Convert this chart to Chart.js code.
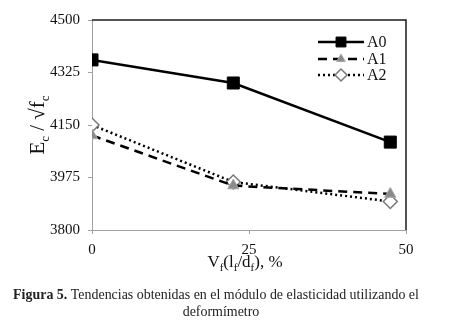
<!DOCTYPE html>
<html>
<head>
<meta charset="utf-8">
<script src="https://cdn.jsdelivr.net/npm/chart.js@4"></script>
<style>
  html, body { margin: 0; padding: 0; background: #fff; }
  #wrap { width: 455px; height: 329px; position: relative; }
</style>
</head>
<body>
<div id="wrap"><canvas id="chart" width="455" height="329"></canvas></div>
<script>
// values
const xValues = [0, 22.5, 47.5];
const seriesNames = ["A0", "A1", "A2"];
const a0Values = [4367, 4290, 4093];
const a1Values = [4115, 3948, 3920];
const a2Values = [4150, 3960, 3895];
const yTicks = [3800, 3975, 4150, 4325, 4500];
const xTicks = [0, 25, 50];
const captionBold = "Figura 5.";
const captionRest = " Tendencias obtenidas en el módulo de elasticidad utilizando el";
const captionLine2 = "deformímetro";

const serif = "'Liberation Serif', 'Times New Roman', serif";

function toPoints(ys) {
  return xValues.map((x, i) => ({ x: x, y: ys[i] }));
}

// draws a run of text pieces, some of them as subscripts
function drawRich(ctx, parts, cx, cy, size) {
  const subSize = Math.round(size * 0.62);
  let total = 0;
  parts.forEach(p => {
    ctx.font = (p.sub ? subSize : size) + "px " + serif;
    p.w = ctx.measureText(p.t).width;
    total += p.w;
  });
  let x = cx - total / 2;
  ctx.textAlign = "left";
  ctx.textBaseline = "alphabetic";
  parts.forEach(p => {
    ctx.font = (p.sub ? subSize : size) + "px " + serif;
    ctx.fillText(p.t, x, cy + (p.sub ? size * 0.25 : 0));
    x += p.w;
  });
}

const extras = {
  id: "extras",
  afterDraw(chart) {
    const ctx = chart.ctx;
    const a = chart.chartArea;
    ctx.save();

    // top and right frame lines
    ctx.strokeStyle = "#1a1a1a";
    ctx.lineWidth = 1.5;
    ctx.beginPath();
    ctx.moveTo(a.left, a.top);
    ctx.lineTo(a.right, a.top);
    ctx.lineTo(a.right, a.bottom);
    ctx.stroke();

    ctx.fillStyle = "#111";
    // y axis title
    ctx.save();
    ctx.translate(37, (a.top + a.bottom) / 2);
    ctx.rotate(-Math.PI / 2);
    drawRich(ctx, [
      { t: "E" }, { t: "c", sub: true }, { t: " / √f" }, { t: "c", sub: true }
    ], 0, 7, 21);
    ctx.restore();

    // x axis title
    drawRich(ctx, [
      { t: "V" }, { t: "f", sub: true }, { t: "(l" }, { t: "f", sub: true },
      { t: "/d" }, { t: "f", sub: true }, { t: "), %" }
    ], 245, 267, 17);

    // legend
    const legendY = [42, 59, 75];
    chart.data.datasets.forEach((ds, i) => {
      const y = legendY[i];
      ctx.save();
      ctx.strokeStyle = ds.borderColor;
      ctx.lineWidth = ds.borderWidth;
      ctx.setLineDash(ds.borderDash || []);
      ctx.beginPath();
      ctx.moveTo(318, y);
      ctx.lineTo(364, y);
      ctx.stroke();
      ctx.restore();
      ctx.save();
      ctx.fillStyle = ds.pointBackgroundColor;
      ctx.strokeStyle = ds.pointBorderColor;
      ctx.lineWidth = ds.pointBorderWidth;
      Chart.helpers.drawPoint(ctx, {
        pointStyle: ds.pointStyle,
        radius: ds.legendRadius,
        borderWidth: ds.pointBorderWidth
      }, 341, y);
      ctx.restore();
      ctx.fillStyle = "#111";
      ctx.font = "16px " + serif;
      ctx.textAlign = "left";
      ctx.textBaseline = "middle";
      ctx.fillText(seriesNames[i], 367, y + 1);
    });

    // caption, sized to span the same width as in the figure
    ctx.fillStyle = "#222";
    ctx.textBaseline = "alphabetic";
    ctx.font = "bold 13px " + serif;
    let wb = ctx.measureText(captionBold).width;
    ctx.font = "13px " + serif;
    let wr = ctx.measureText(captionRest).width;
    const size = 13 * 406 / (wb + wr);
    ctx.font = "bold " + size + "px " + serif;
    wb = ctx.measureText(captionBold).width;
    ctx.font = size + "px " + serif;
    wr = ctx.measureText(captionRest).width;
    const x0 = 216 - (wb + wr) / 2;
    ctx.textAlign = "left";
    ctx.font = "bold " + size + "px " + serif;
    ctx.fillText(captionBold, x0, 299);
    ctx.font = size + "px " + serif;
    ctx.fillText(captionRest, x0 + wb, 299);
    ctx.textAlign = "center";
    ctx.fillText(captionLine2, 221, 316);

    ctx.restore();
  }
};

new Chart(document.getElementById("chart").getContext("2d"), {
  type: "line",
  data: {
    datasets: [
      {
        label: seriesNames[0],
        data: toPoints(a0Values),
        borderColor: "#000",
        borderWidth: 2.5,
        pointStyle: "rect",
        pointRadius: 8.5,
        legendRadius: 7,
        pointBackgroundColor: "#000",
        pointBorderColor: "#000",
        pointBorderWidth: 1
      },
      {
        label: seriesNames[1],
        data: toPoints(a1Values),
        borderColor: "#000",
        borderWidth: 2.5,
        borderDash: [9, 6],
        pointStyle: "triangle",
        pointRadius: 6.5,
        legendRadius: 5,
        pointBackgroundColor: "#8a8a8a",
        pointBorderColor: "#a8a8a8",
        pointBorderWidth: 1
      },
      {
        label: seriesNames[2],
        data: toPoints(a2Values),
        borderColor: "#000",
        borderWidth: 2.5,
        borderDash: [2, 3],
        pointStyle: "rectRot",
        pointRadius: 7,
        legendRadius: 6,
        pointBackgroundColor: "#fff",
        pointBorderColor: "#777",
        pointBorderWidth: 1.5
      }
    ]
  },
  options: {
    responsive: false,
    animation: false,
    layout: { padding: { left: 0, top: 20, right: 49, bottom: 0 } },
    plugins: {
      legend: { display: false },
      tooltip: { enabled: false }
    },
    scales: {
      x: {
        type: "linear",
        min: 0,
        max: 50,
        afterBuildTicks: (scale) => { scale.ticks = xTicks.map(v => ({ value: v })); },
        afterFit: (scale) => { scale.height = 99; },
        grid: { drawOnChartArea: false, color: "#a0a0a0", tickLength: 4 },
        border: { color: "#a0a0a0", width: 1 },
        ticks: { color: "#111", font: { family: serif, size: 15 }, padding: 7, maxRotation: 0, callback: (v) => String(v) }
      },
      y: {
        min: 3800,
        max: 4500,
        afterBuildTicks: (scale) => { scale.ticks = yTicks.map(v => ({ value: v })); },
        afterFit: (scale) => { scale.width = 92; },
        grid: { drawOnChartArea: false, color: "#a0a0a0", tickLength: 4 },
        border: { color: "#a0a0a0", width: 1 },
        ticks: { color: "#111", font: { family: serif, size: 15 }, padding: 8, callback: (v) => String(v) }
      }
    }
  },
  plugins: [extras]
});
</script>
</body>
</html>
